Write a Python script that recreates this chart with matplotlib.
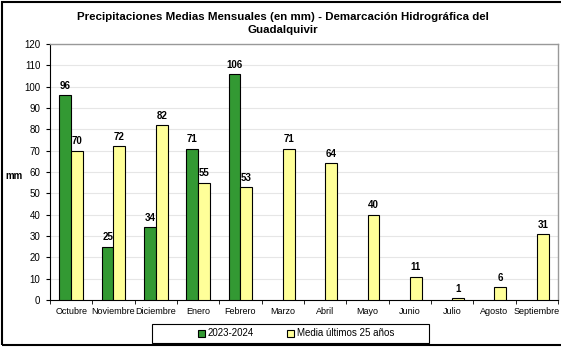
import matplotlib
matplotlib.use("Agg")
import matplotlib.pyplot as plt
import numpy as np
from matplotlib.patches import Rectangle

months = ["Octubre", "Noviembre", "Diciembre", "Enero", "Febrero", "Marzo",
          "Abril", "Mayo", "Junio", "Julio", "Agosto", "Septiembre"]
s2324 = [96, 25, 34, 71, 106, None, None, None, None, None, None, None]
media = [70, 72, 82, 55, 53, 71, 64, 40, 11, 1, 6, 31]
series_names = ["2023-2024", "Media últimos 25 años"]
yticks = list(range(0, 121, 10))

plt.rcParams['font.family'] = ['Liberation Sans', 'DejaVu Sans']

fig = plt.figure(figsize=(5.61, 3.48), dpi=100)
ax = fig.add_axes([50/561, 1 - 300/348, 508/561, 256/348])

x = np.arange(len(months))
w = 0.28
green = "#339933"
yellow = "#FFFF99"

gx = [xi for xi, v in zip(x, s2324) if v is not None]
gv = [v for v in s2324 if v is not None]
b1 = ax.bar(np.array(gx) - w/2, gv, w, color=green, edgecolor="black", linewidth=0.8, label=series_names[0], zorder=3)
b2 = ax.bar(x + w/2, media, w, color=yellow, edgecolor="black", linewidth=0.8, label=series_names[1], zorder=3)

for xi, v in zip(gx, gv):
    ax.text(xi - w/2, v + 2, str(v), ha="center", va="bottom", fontsize=7, fontweight="bold")
for xi, v in zip(x, media):
    ax.text(xi + w/2, v + 2, str(v), ha="center", va="bottom", fontsize=7, fontweight="bold")

ax.set_xlim(-0.5, len(months) - 0.5)
ax.set_ylim(0, 120)
ax.set_yticks(yticks)
ax.tick_params(axis="y", labelsize=7, length=3, direction="out", pad=4)
ax.set_xticks(x)
ax.set_xticklabels(months, fontsize=6.5)
ax.tick_params(axis="x", length=0, pad=5)
ax.set_xticks(np.arange(-0.5, len(months), 1), minor=True)
ax.tick_params(axis="x", which="minor", length=3, direction="out")
ax.grid(axis="y", color="#e6e6e6", linewidth=0.8, zorder=0)
for s in ["top", "right"]:
    ax.spines[s].set_color("#999999")
    ax.spines[s].set_linewidth(1.0)
ax.spines["left"].set_color("black")
ax.spines["bottom"].set_color("black")

fig.text(14/561, 1 - 176/348, "mm", fontsize=7, fontweight="bold", ha="center", va="center")
fig.text(283/561, 1 - 23.5/348, "Precipitaciones Medias Mensuales (en mm) - Demarcación Hidrográfica del\nGuadalquivir",
         fontsize=8.25, fontweight="bold", ha="center", va="center", linespacing=1.35)

leg = fig.legend(handles=[b1, b2], labels=series_names, loc="center left",
                 bbox_to_anchor=(193/561, 1 - 333.5/348), ncol=2, fontsize=7,
                 frameon=False, handlelength=0.7, handleheight=0.7,
                 handletextpad=0.25, columnspacing=3.5, borderpad=0.0)

fig.patches.append(Rectangle((152/561, 1 - 343/348), 277/561, 19/348, transform=fig.transFigure,
                             fill=False, edgecolor="black", linewidth=0.8))
fig.patches.append(Rectangle((2/561, 3/348), 1.2, 1 - 5/348, transform=fig.transFigure,
                             fill=False, edgecolor="black", linewidth=1.5))

fig.savefig("out.png", dpi=100)
